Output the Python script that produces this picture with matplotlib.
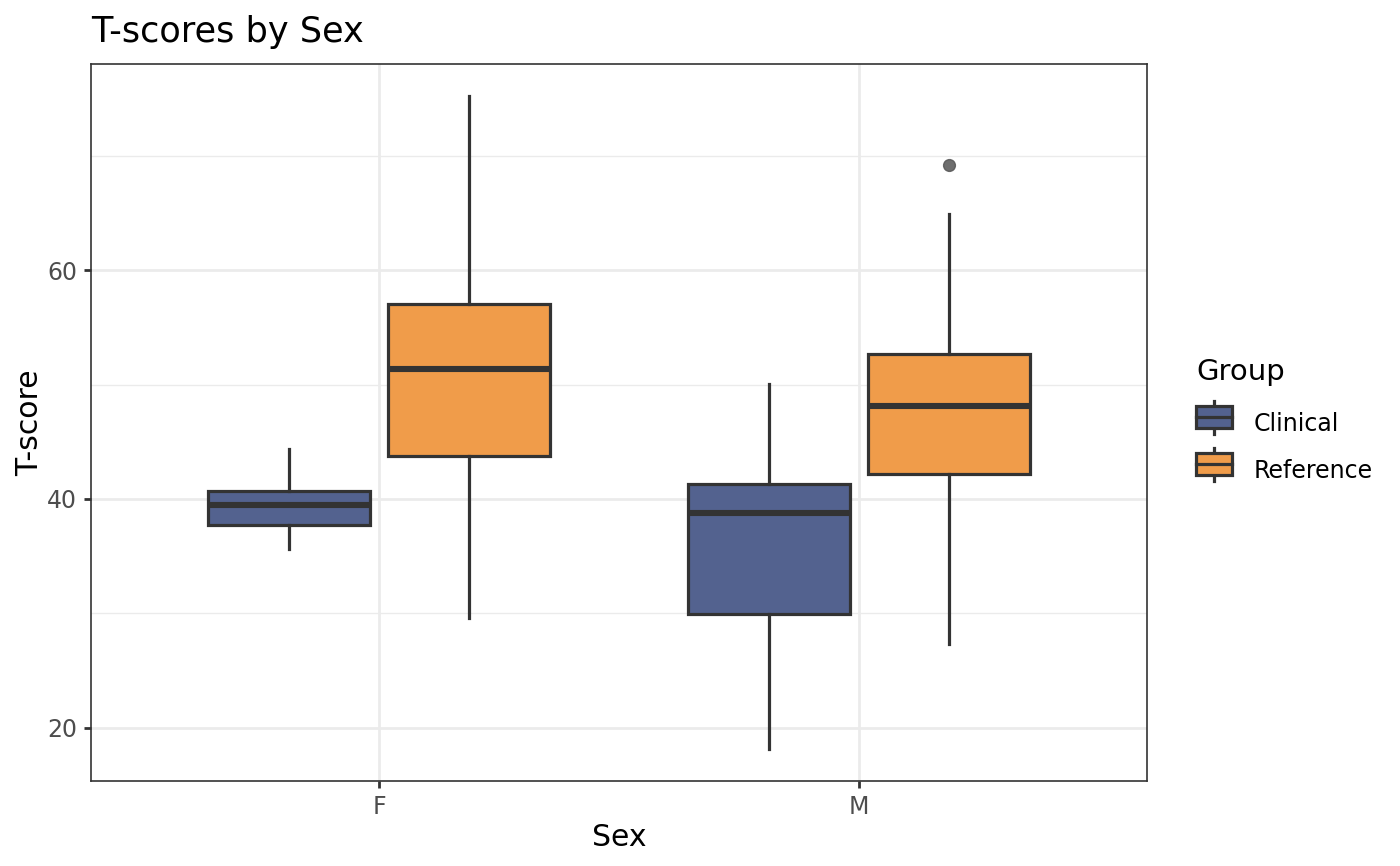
import numpy as np
import matplotlib
matplotlib.use("Agg")
import matplotlib.pyplot as plt
from matplotlib.patches import Rectangle
from matplotlib.lines import Line2D
from matplotlib.legend_handler import HandlerBase

plt.rcParams['font.family'] = ['DejaVu Sans']

# data
sexes = ["F", "M"]
groups = ["Clinical", "Reference"]
colors = {"Clinical": "#53628F", "Reference": "#F09C4A"}

# per group: values for F, M
whislo = {"Clinical": [35.6, 18.1], "Reference": [29.6, 27.3]}
q1 = {"Clinical": [37.7, 29.9], "Reference": [43.8, 42.2]}
med = {"Clinical": [39.5, 38.8], "Reference": [51.4, 48.1]}
q3 = {"Clinical": [40.7, 41.3], "Reference": [57.1, 52.7]}
whishi = {"Clinical": [44.4, 50.1], "Reference": [75.3, 64.9]}
fliers = {"Clinical": [[], []], "Reference": [[], [69.2]]}

edge = "#333333"

fig = plt.figure(figsize=(14, 8.66), dpi=100)
ax = fig.add_axes([91/1400, 1-781/866, (1147-91)/1400, (781-64)/866])

offsets = {"Clinical": -0.1875, "Reference": 0.1875}
xpos = np.arange(1, len(sexes) + 1)

for g in groups:
    stats = []
    for i in range(len(sexes)):
        stats.append(dict(med=med[g][i], q1=q1[g][i], q3=q3[g][i],
                          whislo=whislo[g][i], whishi=whishi[g][i],
                          fliers=fliers[g][i]))
    ax.bxp(stats, positions=xpos + offsets[g], widths=0.3375,
           patch_artist=True, showcaps=False, manage_ticks=False,
           boxprops=dict(facecolor=colors[g], edgecolor=edge, linewidth=2.3),
           whiskerprops=dict(color=edge, linewidth=2.3),
           medianprops=dict(color=edge, linewidth=4.4, solid_capstyle='butt'),
           flierprops=dict(marker='o', markersize=8.5, markerfacecolor='#555555',
                           markeredgecolor='#555555', alpha=0.85))

ax.set_xlim(0.4, 2.6)
ax.set_ylim(15.32, 78.07)
ax.set_xticks(xpos)
ax.set_xticklabels(sexes)
ax.set_yticks([20, 40, 60])
ax.set_yticks([30, 50, 70], minor=True)
ax.grid(True, which='major', color='#EBEBEB', linewidth=2)
ax.grid(True, which='minor', axis='y', color='#EBEBEB', linewidth=1)
ax.set_axisbelow(True)
ax.tick_params(axis='both', which='major', length=5, width=2, color=edge,
               labelsize=17, labelcolor='#4D4D4D', pad=5)
ax.tick_params(axis='y', which='minor', length=0)
for s in ax.spines.values():
    s.set_color(edge)
    s.set_linewidth(1.2)

ax.set_xlabel("Sex", fontsize=21.5, labelpad=3)
ax.set_ylabel("T-score", fontsize=21.5, labelpad=2)
ax.set_title("T-scores by Sex", fontsize=25.3, loc='left', x=0.0, pad=16)


class BoxKey(HandlerBase):
    def create_artists(self, legend, orig, xd, yd, w, h, fontsize, trans):
        fc = orig.get_facecolor()
        rect = Rectangle((xd, yd), w, h, facecolor=fc, edgecolor=edge,
                         linewidth=2.3, transform=trans)
        mid = Line2D([xd, xd + w], [yd + h/2, yd + h/2], color=edge,
                     linewidth=2.3, transform=trans)
        top = Line2D([xd + w/2, xd + w/2], [yd + h, yd + h + 4], color=edge,
                     linewidth=2.3, transform=trans)
        bot = Line2D([xd + w/2, xd + w/2], [yd, yd - 4], color=edge,
                     linewidth=2.3, transform=trans)
        return [top, bot, rect, mid]


handles = [Rectangle((0, 0), 1, 1, facecolor=colors[g]) for g in groups]
leg = fig.legend(handles, groups, title="Group", loc='upper left',
                 bbox_to_anchor=(1196/1400, 1-358/866), frameon=False,
                 borderpad=0, borderaxespad=0,
                 handler_map={Rectangle: BoxKey()}, fontsize=17,
                 title_fontsize=21, handlelength=1.52, handleheight=1.06,
                 labelspacing=0.96, handletextpad=0.9, alignment='left')
leg._legend_box.sep = 19

fig.savefig("out.png", dpi=100)
